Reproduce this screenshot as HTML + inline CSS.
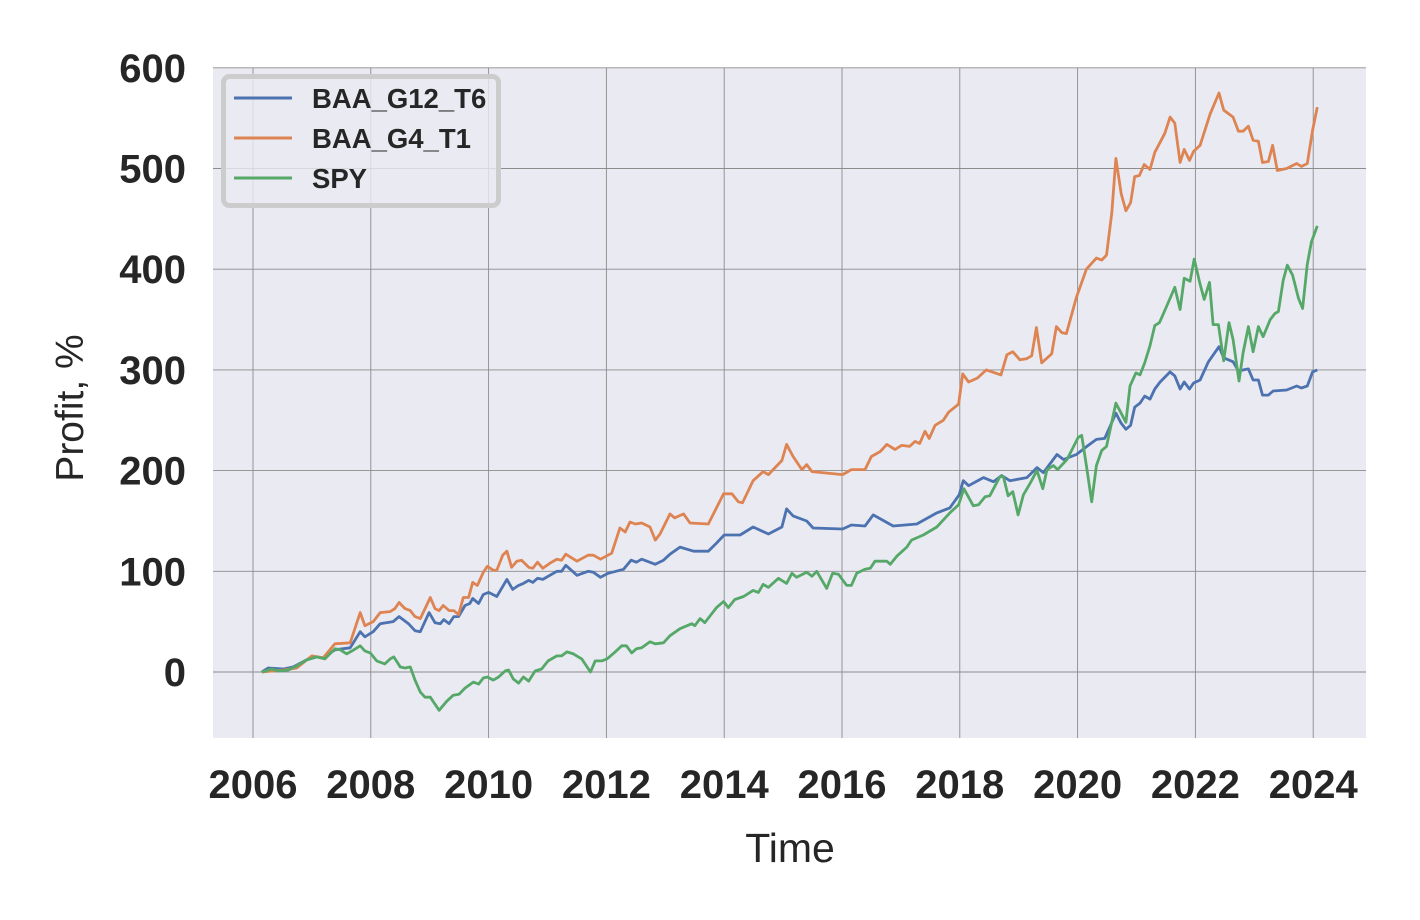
<!DOCTYPE html>
<html><head><meta charset="utf-8"><style>
html,body{margin:0;padding:0;background:#fff;}
svg{display:block;font-family:"Liberation Sans",Arial,sans-serif;}
</style></head><body>
<svg id="chart" width="1420" height="920" viewBox="0 0 1420 920" xmlns="http://www.w3.org/2000/svg">
<rect x="0" y="0" width="1420" height="920" fill="#ffffff"/>
<rect x="213" y="68" width="1153" height="670" fill="#eaeaf2"/>
<g id="grid"></g>
<g id="series"></g>
<g id="ticks"></g>
<text x="790" y="862" text-anchor="middle" font-size="41" fill="#262626">Time</text>
<text transform="translate(83,408) rotate(-90)" text-anchor="middle" font-size="39" fill="#262626">Profit, %</text>
<g>
<rect x="223.5" y="76.5" width="275" height="129" rx="6" fill="#eaeaf2" fill-opacity="0.8" stroke="#cccccc" stroke-width="5"/>
<g><line x1="234" y1="98" x2="292" y2="98" stroke="#4c72b0" stroke-width="3"/><text x="312" y="108" font-size="27.5" font-weight="bold" fill="#262626">BAA_G12_T6</text></g>
<g><line x1="234" y1="138" x2="292" y2="138" stroke="#dd8452" stroke-width="3"/><text x="312" y="148" font-size="27.5" font-weight="bold" fill="#262626">BAA_G4_T1</text></g>
<g><line x1="234" y1="178" x2="292" y2="178" stroke="#55a868" stroke-width="3"/><text x="312" y="188" font-size="27.5" font-weight="bold" fill="#262626">SPY</text></g>
</g>
</svg>
<script>
const xTicks = [2006,2008,2010,2012,2014,2016,2018,2020,2022,2024];
const yTicks = [0,100,200,300,400,500,600];
const blueT = [2006.15,2006.26,2006.52,2006.68,2006.91,2007.08,2007.19,2007.39,2007.65,2007.82,2007.90,2008.04,2008.16,2008.38,2008.48,2008.64,2008.75,2008.84,2008.99,2009.09,2009.18,2009.24,2009.33,2009.41,2009.49,2009.60,2009.68,2009.73,2009.83,2009.91,2010.00,2010.14,2010.31,2010.41,2010.51,2010.59,2010.68,2010.75,2010.83,2010.92,2011.16,2011.24,2011.31,2011.50,2011.69,2011.78,2011.90,2012.03,2012.29,2012.42,2012.51,2012.60,2012.83,2012.97,2013.08,2013.25,2013.48,2013.73,2013.87,2014.00,2014.27,2014.49,2014.75,2014.98,2015.06,2015.17,2015.40,2015.51,2016.01,2016.16,2016.39,2016.53,2016.87,2017.27,2017.61,2017.83,2017.99,2018.06,2018.15,2018.40,2018.57,2018.71,2018.85,2019.14,2019.31,2019.42,2019.65,2019.76,2019.98,2020.18,2020.32,2020.46,2020.65,2020.74,2020.82,2020.90,2020.97,2021.06,2021.14,2021.23,2021.31,2021.40,2021.57,2021.65,2021.74,2021.81,2021.90,2021.97,2022.08,2022.22,2022.40,2022.48,2022.64,2022.73,2022.90,2022.98,2023.07,2023.14,2023.24,2023.32,2023.55,2023.72,2023.80,2023.90,2023.99,2024.07];
const blueV = [0,4,3,5,12,15,14,22,24,40,35,40,48,50,55,48,41,40,59,49,48,52,48,55,55,66,68,73,68,77,79,75,92,82,86,88,91,89,93,92,100,100,106,96,100,99,94,98,102,111,109,112,107,111,117,124,120,120,128,136,136,144,137,144,162,155,150,143,142,146,145,156,145,147,158,163,176,190,185,193,189,195,190,193,203,198,216,211,216,225,231,232,257,247,241,245,263,267,274,271,281,288,298,294,281,288,281,287,290,308,323,312,308,299,301,290,290,275,275,279,280,284,282,284,298,300];
const orangeT = [2006.15,2006.52,2006.74,2007.00,2007.19,2007.39,2007.65,2007.82,2007.90,2008.04,2008.16,2008.33,2008.41,2008.48,2008.58,2008.67,2008.75,2008.84,2009.01,2009.09,2009.16,2009.23,2009.33,2009.41,2009.49,2009.57,2009.66,2009.73,2009.81,2009.91,2009.98,2010.08,2010.14,2010.24,2010.31,2010.39,2010.48,2010.56,2010.68,2010.75,2010.83,2010.92,2011.04,2011.16,2011.24,2011.31,2011.50,2011.69,2011.78,2011.90,2012.09,2012.23,2012.32,2012.40,2012.49,2012.60,2012.74,2012.83,2012.91,2013.08,2013.16,2013.31,2013.42,2013.73,2013.99,2014.13,2014.24,2014.31,2014.49,2014.66,2014.75,2014.98,2015.06,2015.17,2015.32,2015.40,2015.49,2015.66,2016.01,2016.16,2016.39,2016.50,2016.65,2016.76,2016.90,2017.01,2017.15,2017.24,2017.32,2017.41,2017.48,2017.58,2017.72,2017.81,2017.98,2018.05,2018.15,2018.30,2018.45,2018.70,2018.80,2018.90,2019.02,2019.13,2019.22,2019.30,2019.39,2019.56,2019.64,2019.73,2019.81,2019.98,2020.15,2020.32,2020.41,2020.49,2020.58,2020.65,2020.74,2020.82,2020.90,2020.97,2021.05,2021.13,2021.23,2021.31,2021.40,2021.48,2021.57,2021.65,2021.74,2021.81,2021.90,2021.97,2022.08,2022.25,2022.40,2022.48,2022.64,2022.73,2022.81,2022.90,2022.98,2023.07,2023.14,2023.24,2023.31,2023.39,2023.55,2023.72,2023.80,2023.90,2023.99,2024.07];
const orangeV = [0,2,4,16,14,28,29,59,46,50,59,60,63,69,63,61,55,53,74,63,61,66,61,61,57,74,74,89,86,99,105,101,101,116,120,104,110,111,104,103,109,103,108,112,111,117,110,116,116,112,118,143,139,149,147,148,144,131,137,157,153,157,148,147,177,177,169,168,190,199,196,210,226,214,201,206,199,198,196,201,201,214,219,226,221,225,224,229,227,239,232,245,250,258,266,296,288,292,300,295,315,318,310,311,314,342,307,316,343,337,336,372,400,411,409,414,456,510,475,458,466,492,493,504,499,516,526,535,551,545,506,519,508,517,523,554,575,558,551,537,537,542,528,527,506,507,523,498,500,505,502,505,538,561];
const greenT = [2006.15,2006.32,2006.43,2006.60,2006.74,2006.91,2007.08,2007.22,2007.39,2007.48,2007.59,2007.68,2007.82,2007.90,2007.99,2008.10,2008.24,2008.33,2008.39,2008.50,2008.58,2008.67,2008.75,2008.84,2008.92,2009.01,2009.16,2009.29,2009.40,2009.50,2009.60,2009.74,2009.83,2009.91,2009.98,2010.08,2010.17,2010.28,2010.34,2010.42,2010.51,2010.59,2010.68,2010.79,2010.90,2011.01,2011.16,2011.24,2011.33,2011.44,2011.58,2011.73,2011.81,2011.92,2012.01,2012.15,2012.26,2012.34,2012.43,2012.51,2012.60,2012.74,2012.83,2012.97,2013.08,2013.25,2013.45,2013.50,2013.59,2013.67,2013.87,2013.99,2014.07,2014.18,2014.33,2014.49,2014.58,2014.66,2014.75,2014.92,2015.06,2015.15,2015.23,2015.40,2015.49,2015.57,2015.74,2015.84,2015.94,2016.08,2016.16,2016.25,2016.39,2016.48,2016.56,2016.76,2016.82,2016.93,2017.10,2017.18,2017.38,2017.61,2017.83,2017.98,2018.07,2018.23,2018.32,2018.43,2018.51,2018.68,2018.74,2018.82,2018.90,2018.99,2019.08,2019.19,2019.31,2019.41,2019.48,2019.59,2019.66,2019.82,2020.01,2020.07,2020.15,2020.24,2020.32,2020.41,2020.49,2020.65,2020.82,2020.89,2020.99,2021.06,2021.14,2021.23,2021.31,2021.39,2021.48,2021.65,2021.74,2021.81,2021.91,2021.98,2022.08,2022.15,2022.24,2022.30,2022.39,2022.48,2022.57,2022.64,2022.74,2022.81,2022.90,2022.98,2023.07,2023.15,2023.27,2023.35,2023.41,2023.49,2023.56,2023.65,2023.75,2023.82,2023.90,2023.97,2024.07];
const greenV = [0,3,1,2,6,12,15,13,23,22,18,21,26,21,19,11,8,13,15,5,4,5,-8,-20,-25,-25,-38,-29,-23,-22,-16,-10,-12,-6,-5,-8,-5,1,2,-7,-11,-5,-9,1,3,11,16,16,20,18,13,0,11,11,13,20,26,26,19,23,24,30,28,29,36,43,48,46,53,49,64,70,64,72,75,81,79,87,84,93,88,98,94,99,95,100,83,98,97,86,86,98,102,103,110,110,107,115,124,131,136,144,158,166,182,165,166,174,175,194,194,175,179,156,176,187,200,182,201,205,201,211,233,235,205,169,205,220,224,267,248,284,297,295,307,324,344,347,359,382,360,391,388,410,385,370,387,345,345,309,347,330,289,317,343,318,343,333,350,356,358,389,404,394,371,361,405,427,443];

const NS = "http://www.w3.org/2000/svg";
const L = 213, R = 1366, T = 68, B = 738;
function xs(t){ return 253 + (t - 2006) * 58.9; }
function ys(v){ return 672 - v * 1.007; }
const grid = document.getElementById('grid');
const ticks = document.getElementById('ticks');
xTicks.forEach(t => {
  const ln = document.createElementNS(NS, 'line');
  
  
  ln.setAttribute('x1', xs(t)); ln.setAttribute('x2', xs(t));
  ln.setAttribute('y1', T); ln.setAttribute('y2', B);
  ln.setAttribute('stroke', '#8c8c8c'); ln.setAttribute('stroke-width', '0.9');
  grid.appendChild(ln);
  const tx = document.createElementNS(NS, 'text');
  
  
  tx.setAttribute('x', xs(t)); tx.setAttribute('y', 798);
  tx.setAttribute('text-anchor', 'middle'); tx.setAttribute('font-size', '40');
  tx.setAttribute('font-weight', 'bold'); tx.setAttribute('fill', '#262626');
  tx.textContent = t;
  ticks.appendChild(tx);
});
yTicks.forEach(v => {
  const ln = document.createElementNS(NS, 'line');
  
  
  ln.setAttribute('x1', L); ln.setAttribute('x2', R);
  ln.setAttribute('y1', ys(v)); ln.setAttribute('y2', ys(v));
  ln.setAttribute('stroke', '#8c8c8c'); ln.setAttribute('stroke-width', '0.9');
  grid.appendChild(ln);
  const tx = document.createElementNS(NS, 'text');
  
  
  tx.setAttribute('x', 186); tx.setAttribute('y', ys(v) + 14);
  tx.setAttribute('text-anchor', 'end'); tx.setAttribute('font-size', '40');
  tx.setAttribute('font-weight', 'bold'); tx.setAttribute('fill', '#262626');
  tx.textContent = v;
  ticks.appendChild(tx);
});
const seriesG = document.getElementById('series');
function drawLine(ts, vs, color, name){
  const p = document.createElementNS(NS, 'polyline');
  
  
  p.setAttribute('points', ts.map((t, i) => xs(t).toFixed(1) + ',' + ys(vs[i]).toFixed(1)).join(' '));
  p.setAttribute('fill', 'none'); p.setAttribute('stroke', color);
  p.setAttribute('stroke-width', '2.8'); p.setAttribute('stroke-linejoin', 'round');
  seriesG.appendChild(p);
}
drawLine(blueT, blueV, '#4c72b0', 'line-baa-g12-t6');
drawLine(orangeT, orangeV, '#dd8452', 'line-baa-g4-t1');
drawLine(greenT, greenV, '#55a868', 'line-spy');
</script>
</body></html>
